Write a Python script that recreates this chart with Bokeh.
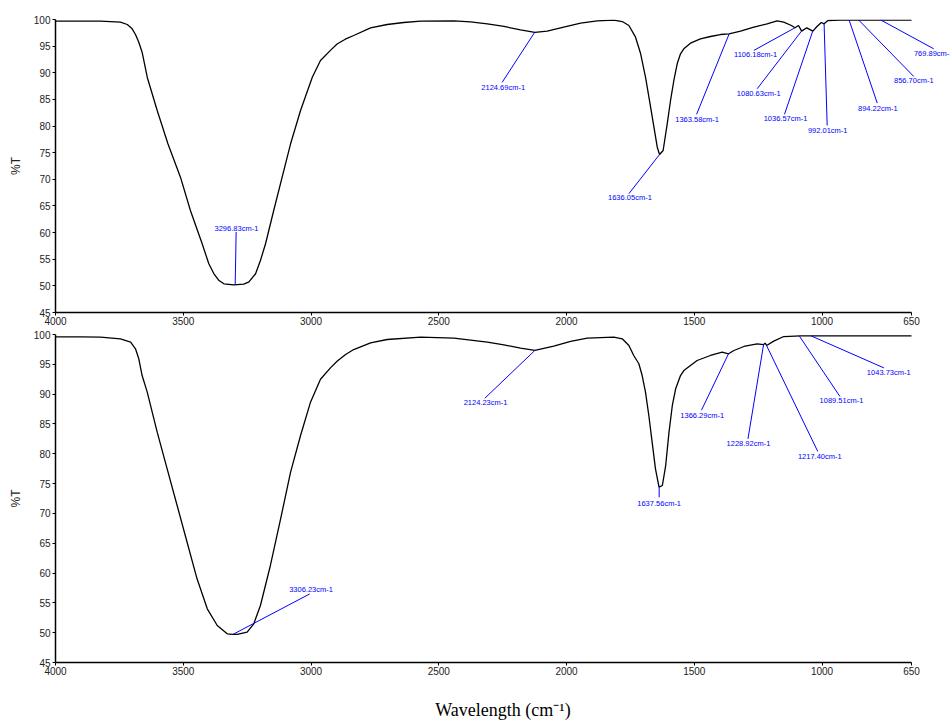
from bokeh.plotting import figure
from bokeh.layouts import column
from bokeh.models import Range1d, FixedTicker, Label, ColumnDataSource
from bokeh.embed import file_html
from bokeh.resources import INLINE

# ---------------- data: upper spectrum ----------------
top_wn = [4000, 3900, 3824, 3746, 3719, 3700, 3687, 3674, 3661, 3641, 3602, 3560, 3511,
          3472, 3426, 3400, 3380, 3360, 3341, 3302, 3263, 3243, 3217, 3198, 3178, 3146,
          3113, 3080, 3041, 2995, 2963, 2924, 2898, 2866, 2833, 2767, 2702, 2637, 2571,
          2441, 2376, 2310, 2245, 2180, 2124, 2076, 2011, 1945, 1880, 1815, 1782, 1756,
          1730, 1710, 1691, 1671, 1658, 1645, 1636, 1622, 1606, 1593, 1580, 1567, 1554,
          1541, 1515, 1476, 1437, 1398, 1364, 1319, 1267, 1215, 1176, 1150, 1120, 1106,
          1092, 1080, 1060, 1036, 1020, 1003, 992, 977, 928, 650]
top_t = [99.7, 99.7, 99.7, 99.5, 99.06, 98.25, 97.18, 95.74, 93.86, 89.17, 82.92, 76.67,
         70.4, 64.15, 57.9, 54.14, 52.27, 51.0, 50.39, 50.2, 50.31, 50.76, 52.27, 54.76,
         57.9, 64.15, 70.4, 76.67, 82.92, 89.17, 92.3, 94.2, 95.4, 96.3, 97.0, 98.44,
         99.06, 99.44, 99.69, 99.75, 99.56, 99.19, 98.69, 98.06, 97.6, 97.8, 98.56, 99.3,
         99.75, 99.87, 99.62, 98.87, 96.68, 93.56, 89.17, 83.54, 79.78, 76.03, 74.66,
         75.41, 80.42, 84.8, 88.55, 91.68, 93.56, 94.5, 95.56, 96.38, 96.81, 97.18, 97.3,
         97.81, 98.56, 99.19, 99.75, 99.5, 98.87, 98.44, 98.87, 97.81, 98.44, 97.81,
         98.69, 99.44, 99.19, 99.81, 99.9, 99.9]

top_peaks = ["3296.83cm-1", "2124.69cm-1", "1636.05cm-1", "1363.58cm-1", "1106.18cm-1",
             "1080.63cm-1", "1036.57cm-1", "992.01cm-1", "894.22cm-1", "856.70cm-1",
             "769.89cm-1"]
top_peak_wn = [3296.83, 2124.69, 1636.05, 1363.58, 1106.18, 1080.63, 1036.57, 992.01,
               894.22, 856.70, 769.89]
top_peak_t = [50.2, 97.6, 74.66, 97.3, 98.44, 97.81, 97.81, 99.19, 99.9, 99.9, 99.9]
top_end_wn = [3293, 2252, 1756, 1491, 1267, 1254, 1147, 980, 784, 641, 563]
top_end_t = [60.1, 88.2, 67.3, 82.2, 94.2, 87.0, 82.2, 80.1, 84.3, 89.3, 94.5]
top_txt_wn = [3292, 2248, 1752, 1489, 1260, 1248, 1143, 978, 782, 641, 563]
top_txt_t = [60.8, 87.3, 66.5, 81.2, 93.4, 86.05, 81.5, 79.2, 83.35, 88.55, 93.67]

# ---------------- data: lower spectrum ----------------
bot_wn = [4000, 3900, 3824, 3746, 3706, 3687, 3674, 3661, 3641, 3602, 3563, 3524, 3485,
          3446, 3406, 3367, 3328, 3306, 3289, 3250, 3224, 3198, 3159, 3119, 3080, 3041,
          3002, 2963, 2924, 2898, 2866, 2833, 2767, 2702, 2571, 2441, 2310, 2245, 2180,
          2124, 2050, 1984, 1919, 1815, 1782, 1756, 1737, 1717, 1704, 1691, 1678, 1665,
          1652, 1638, 1625, 1612, 1599, 1586, 1573, 1554, 1541, 1489, 1437, 1391, 1366,
          1345, 1306, 1254, 1229, 1223, 1217, 1189, 1150, 1084, 1044, 650]
bot_t = [99.6, 99.6, 99.55, 99.28, 98.71, 97.6, 95.93, 93.12, 90.33, 83.62, 77.48, 71.33,
         65.17, 59.03, 54.0, 51.2, 49.81, 49.7, 49.7, 50.08, 51.49, 54.56, 61.27, 69.09,
         76.91, 83.06, 88.65, 92.5, 94.4, 95.5, 96.6, 97.48, 98.6, 99.16, 99.55, 99.38,
         98.71, 98.27, 97.7, 97.32, 98.04, 98.83, 99.38, 99.55, 99.28, 98.16, 96.48,
         95.09, 93.12, 90.33, 86.42, 81.94, 77.48, 74.4, 74.68, 78.03, 83.62, 88.1, 90.9,
         93.12, 93.96, 95.64, 96.48, 97.03, 96.76, 97.32, 97.99, 98.44, 98.3, 98.54,
         98.16, 98.88, 99.66, 99.78, 99.78, 99.78]

bot_peaks = ["3306.23cm-1", "2124.23cm-1", "1637.56cm-1", "1366.29cm-1", "1228.92cm-1",
             "1217.40cm-1", "1089.51cm-1", "1043.73cm-1"]
bot_peak_wn = [3306.23, 2124.23, 1637.56, 1366.29, 1228.92, 1217.40, 1089.51, 1043.73]
bot_peak_t = [49.7, 97.32, 74.4, 96.76, 98.3, 98.16, 99.78, 99.78]
bot_end_wn = [3005, 2320, 1637.56, 1472, 1290, 1017, 930, 758]
bot_end_t = [56.5, 89.3, 72.7, 87.3, 82.5, 80.4, 89.6, 94.4]
bot_txt_wn = [3000, 2317, 1637.56, 1469, 1288, 1009, 924, 739]
bot_txt_t = [57.3, 88.55, 71.7, 86.4, 81.7, 79.5, 88.9, 93.7]

x_ticks = [4000, 3500, 3000, 2500, 2000, 1500, 1000, 650]
y_ticks = [45, 50, 55, 60, 65, 70, 75, 80, 85, 90, 95, 100]
x_label = "Wavelength (cm\u207b\u00b9)"
y_label = "%T"

# ---------------- layout ----------------
FIG_W = 950
LEFT = 55
AXIS_PX = 856.0            # pixels between 4000 and 650
frame_w = FIG_W - LEFT
x_end = 4000 - (4000 - 650) * frame_w / AXIS_PX

FONT = "Liberation Sans"
BLUE = "#0000ff"


def make_panel(wn, t, peak_wn, peak_t, end_wn, end_t, txt_wn, txt_t, texts,
               height, top, bottom):
    p = figure(width=FIG_W, height=height, output_backend="svg", toolbar_location=None,
               title=None, x_range=Range1d(4000, x_end), y_range=Range1d(45, 100),
               min_border_left=LEFT, min_border_right=0, min_border_top=top,
               min_border_bottom=bottom)
    p.outline_line_color = None
    p.xgrid.grid_line_color = None
    p.ygrid.grid_line_color = None
    p.background_fill_color = "white"

    xa = p.xaxis[0]
    xa.ticker = FixedTicker(ticks=x_ticks)
    xa.bounds = (650, 4000)
    xa.minor_tick_line_color = None
    xa.major_tick_in = 0
    xa.major_tick_out = 3
    xa.major_label_standoff = 1
    xa.axis_line_width = 1.5
    xa.axis_line_color = "black"
    xa.major_label_text_font = FONT
    xa.major_label_text_font_size = "10px"
    xa.major_label_text_color = "#222222"

    ya = p.yaxis[0]
    ya.ticker = FixedTicker(ticks=y_ticks)
    ya.minor_tick_line_color = None
    ya.major_tick_in = 0
    ya.major_tick_out = 3
    ya.major_label_standoff = 2
    ya.axis_line_width = 1.5
    ya.axis_line_color = "black"
    ya.major_label_text_font = FONT
    ya.major_label_text_font_size = "10px"
    ya.major_label_text_color = "#222222"
    ya.axis_label = y_label
    ya.axis_label_text_font = FONT
    ya.axis_label_text_font_size = "12px"
    ya.axis_label_text_font_style = "normal"
    ya.axis_label_text_color = "#222222"
    ya.axis_label_standoff = 8

    p.line(wn, t, line_color="black", line_width=1.3)

    seg = ColumnDataSource(dict(x0=peak_wn, y0=peak_t, x1=end_wn, y1=end_t))
    p.segment("x0", "y0", "x1", "y1", source=seg, line_color=BLUE, line_width=1)

    for tx, ty, s in zip(txt_wn, txt_t, texts):
        p.add_layout(Label(x=tx, y=ty, text=s, text_font=FONT, text_font_size="7.5px",
                           text_color=BLUE, text_align="center",
                           text_baseline="middle"))
    return p


p1 = make_panel(top_wn, top_t, top_peak_wn, top_peak_t, top_end_wn, top_end_t,
                top_txt_wn, top_txt_t, top_peaks, height=330, top=19, bottom=18)
p2 = make_panel(bot_wn, bot_t, bot_peak_wn, bot_peak_t, bot_end_wn, bot_end_t,
                bot_txt_wn, bot_txt_t, bot_peaks, height=394, top=4, bottom=62)

# overall x-axis title (below the lower panel)
xa2 = p2.xaxis[0]
xa2.axis_label = x_label
xa2.axis_label_text_font = "Liberation Serif"
xa2.axis_label_text_font_size = "18px"
xa2.axis_label_text_font_style = "normal"
xa2.axis_label_text_color = "black"
xa2.axis_label_standoff = 22

layout = column(p1, p2, spacing=0)
open("out.html", "w").write(file_html(layout, INLINE))
